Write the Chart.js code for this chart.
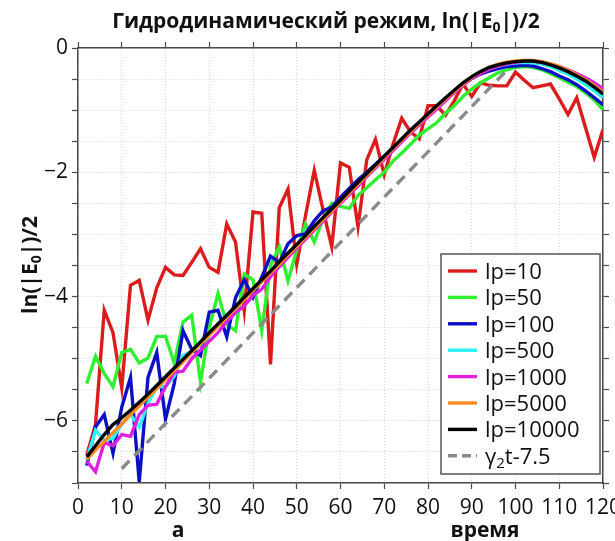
<!DOCTYPE html>
<html>
<head>
<meta charset="utf-8">
<script src="https://cdn.jsdelivr.net/npm/chart.js@4.4.1/dist/chart.umd.min.js"></script>
<style>
  html, body { margin: 0; padding: 0; background: #fff; }
</style>
</head>
<body>
<canvas id="chart" width="615" height="541"></canvas>
<script>
// time grid, step 2
const times = [2, 4, 6, 8, 10, 12, 14, 16, 18, 20, 22, 24, 26, 28, 30, 32, 34, 36, 38, 40,
  42, 44, 46, 48, 50, 52, 54, 56, 58, 60, 62, 64, 66, 68, 70, 72, 74, 76, 78, 80,
  82, 84, 86, 88, 90, 92, 94, 96, 98, 100, 102, 104, 106, 108, 110, 112, 114, 116, 118, 120];

const lp10 = [-6.55, -6.06, -4.22, -4.58, -5.47, -3.82, -3.74, -4.38, -3.86, -3.53,
  -3.65, -3.66, -3.45, -3.23, -3.53, -3.61, -2.83, -3.12, -4.23, -2.64,
  -2.66, -5.09, -2.57, -2.27, -3.48, -2.70, -1.97, -2.60, -3.20, -1.85,
  -1.92, -2.88, -1.80, -1.47, -2.04, -1.55, -1.13, -1.35, -1.46, -0.93,
  -0.93, -1.08, -0.85, -0.58, -0.78, -0.56, -0.60, -0.61, -0.61, -0.39,
  -0.52, -0.64, -0.61, -0.58, -0.82, -1.07, -0.80, -1.28, -1.76, -1.31];

const lp50 = [-5.40, -4.96, -5.24, -5.45, -4.90, -4.85, -5.07, -4.99, -4.64, -4.64,
  -5.07, -4.41, -4.30, -5.38, -4.50, -3.95, -4.45, -4.55, -3.64, -3.73,
  -4.55, -3.50, -3.20, -3.75, -3.25, -2.83, -3.12, -2.75, -2.50, -2.55,
  -2.58, -2.37, -2.25, -2.12, -2.00, -1.82, -1.69, -1.55, -1.40, -1.30,
  -1.20, -1.05, -0.93, -0.78, -0.66, -0.56, -0.48, -0.40, -0.35, -0.31,
  -0.30, -0.31, -0.35, -0.41, -0.48, -0.55, -0.62, -0.72, -0.84, -0.99];

const lp100 = [-6.72, -6.10, -5.90, -6.52, -5.78, -5.30, -6.98, -5.30, -4.90, -5.97,
  -5.40, -4.55, -4.85, -4.95, -4.25, -4.22, -4.65, -4.02, -3.73, -4.01,
  -3.69, -3.35, -3.45, -3.15, -3.02, -2.99, -2.78, -2.62, -2.56, -2.40,
  -2.26, -2.12, -2.00, -1.87, -1.74, -1.61, -1.48, -1.35, -1.22, -1.09,
  -0.96, -0.83, -0.71, -0.59, -0.49, -0.42, -0.37, -0.33, -0.30, -0.29,
  -0.28, -0.29, -0.33, -0.38, -0.45, -0.51, -0.59, -0.69, -0.80, -0.91];

const lp500 = [-6.63, -6.15, -6.31, -6.28, -6.05, -5.90, -6.10, -5.72, -5.45, -5.45,
  -5.28, -4.95, -4.88, -4.77, -4.60, -4.45, -4.36, -4.18, -4.03, -3.90,
  -3.76, -3.61, -3.47, -3.32, -3.18, -3.04, -2.90, -2.75, -2.61, -2.47,
  -2.33, -2.18, -2.04, -1.90, -1.76, -1.62, -1.48, -1.35, -1.22, -1.09,
  -0.95, -0.82, -0.70, -0.58, -0.47, -0.39, -0.33, -0.29, -0.26, -0.24,
  -0.23, -0.24, -0.26, -0.30, -0.36, -0.42, -0.50, -0.59, -0.69, -0.80];

const lp1000 = [-6.65, -6.82, -6.35, -6.40, -6.22, -6.25, -5.90, -5.75, -5.73, -5.45,
  -5.22, -5.20, -5.00, -4.86, -4.72, -4.58, -4.40, -4.26, -4.15, -3.98,
  -3.88, -3.68, -3.52, -3.37, -3.22, -3.08, -2.93, -2.79, -2.64, -2.50,
  -2.36, -2.22, -2.07, -1.93, -1.79, -1.65, -1.51, -1.37, -1.24, -1.11,
  -0.98, -0.85, -0.72, -0.60, -0.49, -0.41, -0.34, -0.29, -0.25, -0.23,
  -0.21, -0.21, -0.23, -0.26, -0.30, -0.35, -0.41, -0.48, -0.56, -0.65];

const lp5000 = [-6.62, -6.47, -6.33, -6.19, -6.05, -5.90, -5.76, -5.62, -5.48, -5.33,
  -5.19, -5.05, -4.90, -4.76, -4.62, -4.48, -4.33, -4.19, -4.05, -3.90,
  -3.76, -3.62, -3.48, -3.33, -3.19, -3.05, -2.90, -2.76, -2.62, -2.48,
  -2.33, -2.19, -2.05, -1.91, -1.76, -1.62, -1.48, -1.35, -1.21, -1.08,
  -0.95, -0.82, -0.70, -0.58, -0.47, -0.38, -0.31, -0.26, -0.23, -0.21,
  -0.20, -0.20, -0.22, -0.25, -0.30, -0.36, -0.43, -0.51, -0.60, -0.71];

const lp10000 = [-6.58, -6.40, -6.22, -6.06, -5.95, -5.83, -5.70, -5.57, -5.43, -5.29,
  -5.15, -5.01, -4.87, -4.73, -4.58, -4.44, -4.30, -4.16, -4.01, -3.87,
  -3.73, -3.59, -3.44, -3.30, -3.16, -3.02, -2.87, -2.73, -2.59, -2.45,
  -2.30, -2.16, -2.02, -1.88, -1.74, -1.60, -1.46, -1.32, -1.19, -1.06,
  -0.93, -0.80, -0.68, -0.56, -0.46, -0.38, -0.31, -0.27, -0.24, -0.22,
  -0.21, -0.21, -0.23, -0.27, -0.32, -0.38, -0.45, -0.53, -0.63, -0.74];

// reference slope line gamma2*t - 7.5, two end points
const fitTimes = [10, 98];
const fitValues = [-6.77, -0.36];

const seriesNames = ['lp=10', 'lp=50', 'lp=100', 'lp=500', 'lp=1000', 'lp=5000', 'lp=10000'];
const seriesColors = ['#dc1c1c', '#2ef02e', '#0c10c4', '#2ef2f2', '#e020e0', '#ff8a1e', '#000000'];
const yLabelled = [0, -2, -4, -6];

const FONT = "'Open Sans', 'DejaVu Sans', sans-serif";
const AXIS = '#4a4a4a';

function toPoints(xs, ys) {
  return ys.map((v, i) => ({ x: xs[i], y: v }));
}

const allSeries = [lp10, lp50, lp100, lp500, lp1000, lp5000, lp10000];
const datasets = allSeries.map((vals, i) => ({
  label: seriesNames[i],
  data: toPoints(times, vals),
  borderColor: seriesColors[i],
  borderWidth: 3.4,
  pointRadius: 0,
  tension: 0,
  order: allSeries.length - i + 1
}));
datasets.push({
  label: 'fit',
  legendParts: [['γ', false], ['2', true], ['t-7.5', false]],
  data: toPoints(fitTimes, fitValues),
  borderColor: '#8a8a8a',
  borderWidth: 3.4,
  borderDash: [11, 7],
  pointRadius: 0,
  order: 0
});

// text with subscript pieces: parts = [[text, isSub], ...], y is the baseline
function richWidth(ctx, parts, size, weight) {
  let w = 0;
  parts.forEach(([t, sub]) => {
    ctx.font = `${weight} ${sub ? Math.round(size * 0.68) : size}px ${FONT}`;
    w += ctx.measureText(t).width;
  });
  return w;
}

function drawRich(ctx, parts, x, y, size, weight, align) {
  let cx = align === 'center' ? x - richWidth(ctx, parts, size, weight) / 2 : x;
  ctx.textAlign = 'left';
  ctx.textBaseline = 'alphabetic';
  parts.forEach(([t, sub]) => {
    ctx.font = `${weight} ${sub ? Math.round(size * 0.68) : size}px ${FONT}`;
    ctx.fillText(t, cx, sub ? y + size * 0.18 : y);
    cx += ctx.measureText(t).width;
  });
}

const decorations = {
  id: 'decorations',
  afterDraw(chart) {
    const ctx = chart.ctx;
    ctx.save();
    ctx.fillStyle = '#111';

    // title
    drawRich(ctx, [['Гидродинамический режим, ln(|E', false], ['0', true], ['|)/2', false]],
      326, 28, 21, 'bold', 'center');

    // axis labels
    ctx.save();
    ctx.translate(37, 265);
    ctx.rotate(-Math.PI / 2);
    drawRich(ctx, [['ln(|E', false], ['0', true], ['|)/2', false]], 0, 0, 21, 'bold', 'center');
    ctx.restore();
    drawRich(ctx, [['а', false]], 178, 537, 21, 'bold', 'center');
    drawRich(ctx, [['время', false]], 485, 537, 21, 'bold', 'center');

    // legend box
    const bx = 441, by = 254, bw = 159, bh = 220;
    ctx.fillStyle = '#fff';
    ctx.fillRect(bx, by, bw, bh);
    ctx.strokeStyle = '#555';
    ctx.lineWidth = 1.5;
    ctx.strokeRect(bx, by, bw, bh);
    chart.data.datasets.forEach((ds, i) => {
      const cy = 271 + i * 26.4;
      ctx.strokeStyle = ds.borderColor;
      ctx.lineWidth = 3.4;
      ctx.setLineDash(ds.borderDash ? [9, 5] : []);
      ctx.beginPath();
      ctx.moveTo(448, cy);
      ctx.lineTo(477, cy);
      ctx.stroke();
      ctx.setLineDash([]);
      ctx.fillStyle = '#111';
      drawRich(ctx, ds.legendParts || [[ds.label, false]], 485, cy + 8, 22, 'normal', 'left');
    });
    ctx.restore();
  }
};

const gridStyle = { color: '#d4d4d4', lineWidth: 1, tickLength: 6, tickColor: AXIS, tickWidth: 1.2 };
const borderStyle = { color: AXIS, width: 1.5, dash: [1, 2] };

new Chart(document.getElementById('chart'), {
  type: 'line',
  data: { datasets },
  plugins: [decorations],
  options: {
    responsive: false,
    devicePixelRatio: 1,
    animation: false,
    layout: { padding: { top: 42, right: 6, left: 0, bottom: 0 } },
    plugins: { legend: { display: false }, title: { display: false }, tooltip: { enabled: false } },
    scales: {
      x: {
        type: 'linear', position: 'bottom', min: 0, max: 120,
        ticks: { stepSize: 10, autoSkip: false, maxRotation: 0, padding: 6, color: '#111',
          font: { family: FONT, size: 21 } },
        grid: gridStyle,
        border: borderStyle,
        afterFit(s) { s.height = 58; s.paddingLeft = 0; s.paddingRight = 0; }
      },
      x2: {
        type: 'linear', position: 'top', min: 0, max: 120,
        ticks: { stepSize: 10, display: false },
        grid: { drawOnChartArea: false, tickLength: 6, tickColor: AXIS, tickWidth: 1.2 },
        border: { color: AXIS, width: 1.5 },
        afterFit(s) { s.height = 6; s.paddingLeft = 0; s.paddingRight = 0; }
      },
      y: {
        type: 'linear', position: 'left', min: -7, max: 0,
        ticks: { stepSize: 0.5, autoSkip: false, padding: 4, color: '#111',
          font: { family: FONT, size: 21 },
          callback: v => yLabelled.includes(v) ? (v < 0 ? '\u2212' + Math.abs(v) : String(v)) : '' },
        grid: gridStyle,
        border: borderStyle,
        afterFit(s) { s.width = 78; s.paddingTop = 0; s.paddingBottom = 0; }
      },
      y2: {
        type: 'linear', position: 'right', min: -7, max: 0,
        ticks: { stepSize: 0.5, display: false },
        grid: { drawOnChartArea: false, tickLength: 6, tickColor: AXIS, tickWidth: 1.2 },
        border: { color: AXIS, width: 1.5 },
        afterFit(s) { s.width = 6; s.paddingTop = 0; s.paddingBottom = 0; }
      }
    }
  }
});
</script>
</body>
</html>
